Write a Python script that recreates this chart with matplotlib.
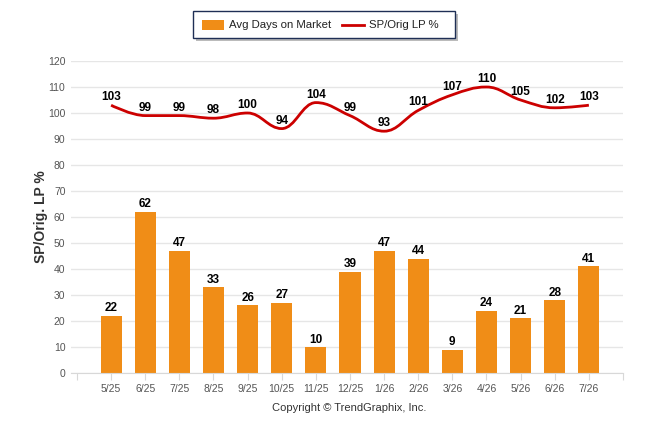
import matplotlib.pyplot as plt
import numpy as np
from matplotlib.path import Path
from matplotlib.patches import PathPatch, Rectangle
from matplotlib.lines import Line2D

plt.rcParams['font.family'] = ['Liberation Sans', 'DejaVu Sans']

months = ['5/25', '6/25', '7/25', '8/25', '9/25', '10/25', '11/25', '12/25',
          '1/26', '2/26', '3/26', '4/26', '5/26', '6/26', '7/26']
avg_days = [22, 62, 47, 33, 26, 27, 10, 39, 47, 44, 9, 24, 21, 28, 41]
sp_orig = [103, 99, 99, 98, 100, 94, 104, 99, 93, 101, 107, 110, 105, 102, 103]

BAR_COLOR = '#F08D17'
LINE_COLOR = '#CC0000'
GRID_COLOR = '#E6E6E6'
TEXT_GRAY = '#555555'


def spline_path(xs, ys, smoothing=1.5):
    # Highcharts-like spline: bezier control points per point
    n = len(xs)
    denom = smoothing + 1
    lefts, rights = [], []
    for i in range(n):
        x, y = xs[i], ys[i]
        if i == 0 or i == n - 1:
            lefts.append((x, y))
            rights.append((x, y))
            continue
        lx, ly = xs[i - 1], ys[i - 1]
        nx, ny = xs[i + 1], ys[i + 1]
        lcx = (smoothing * x + lx) / denom
        lcy = (smoothing * y + ly) / denom
        rcx = (smoothing * x + nx) / denom
        rcy = (smoothing * y + ny) / denom
        corr = (rcy - lcy) * (rcx - x) / (rcx - lcx) + y - rcy
        lcy += corr
        rcy += corr
        if lcy > ly and lcy > y:
            lcy = max(ly, y)
            rcy = 2 * y - lcy
        elif lcy < ly and lcy < y:
            lcy = min(ly, y)
            rcy = 2 * y - lcy
        if rcy > ny and rcy > y:
            rcy = max(ny, y)
            lcy = 2 * y - rcy
        elif rcy < ny and rcy < y:
            rcy = min(ny, y)
            lcy = 2 * y - rcy
        lefts.append((lcx, lcy))
        rights.append((rcx, rcy))
    verts = [(xs[0], ys[0])]
    codes = [Path.MOVETO]
    for i in range(1, n):
        verts += [rights[i - 1], lefts[i], (xs[i], ys[i])]
        codes += [Path.CURVE4] * 3
    return Path(verts, codes)


fig = plt.figure(figsize=(6.46, 4.34), dpi=100)
ax = fig.add_axes([71 / 646, 1 - 373 / 434, (623 - 71) / 646, 312 / 434])

x = np.arange(len(months))
ax.bar(x, avg_days, width=0.62, color=BAR_COLOR, zorder=2)

path = spline_path(list(x.astype(float)), [float(v) for v in sp_orig])
ax.add_patch(PathPatch(path, facecolor='none', edgecolor=LINE_COLOR, lw=2, zorder=3))

for xi, v in zip(x, avg_days):
    ax.annotate(str(v), (xi, v), xytext=(0, 1), textcoords='offset points',
                ha='center', va='bottom', fontsize=8.5, fontweight='bold', color='black')
for xi, v in zip(x, sp_orig):
    ax.annotate(str(v), (xi, v), xytext=(0, 1.5), textcoords='offset points',
                ha='center', va='bottom', fontsize=8.5, fontweight='bold', color='black')

ax.set_xlim(-1.175, 15)
ax.set_ylim(0, 120)
ax.set_yticks(np.arange(0, 121, 10))
ax.tick_params(axis='y', length=0, labelsize=7.5, labelcolor=TEXT_GRAY, pad=4)
ticks = [-1] + list(x) + [15]
ax.set_xticks(ticks)
ax.set_xticklabels([''] + months + [''])
ax.tick_params(axis='x', length=5, color='#D8D8D8', labelsize=7.5, labelcolor=TEXT_GRAY, pad=3)
ax.grid(axis='y', color=GRID_COLOR, lw=1, zorder=0)
ax.set_axisbelow(True)
for s in ['top', 'right', 'left']:
    ax.spines[s].set_visible(False)
ax.spines['bottom'].set_color('#D8D8D8')

ax.set_ylabel('SP/Orig. LP %', fontsize=10, fontweight='bold', color='#333333', labelpad=0)

# legend box with shadow
shadow = Rectangle((196 / 646, 1 - 41 / 434), (455 - 193) / 646, 27 / 434,
                   transform=fig.transFigure, facecolor='#BBBBBB', edgecolor='none', zorder=1)
box = Rectangle((193 / 646, 1 - 38 / 434), (455 - 193) / 646, 27 / 434,
                transform=fig.transFigure, facecolor='white', edgecolor='#1F2F55', lw=1, zorder=2)
fig.patches.extend([shadow, box])
fig.patches.append(Rectangle((202 / 646, 1 - 30 / 434), 22 / 646, 10 / 434,
                             transform=fig.transFigure, facecolor=BAR_COLOR, edgecolor='none', zorder=3))
fig.text(229 / 646, 1 - 25 / 434, 'Avg Days on Market', fontsize=8.2, color='#222222', va='center', zorder=3)
fig.lines.append(Line2D([342 / 646, 364 / 646], [1 - 25 / 434, 1 - 25 / 434],
                        transform=fig.transFigure, color=LINE_COLOR, lw=2, zorder=3))
fig.text(369 / 646, 1 - 25 / 434, 'SP/Orig LP %', fontsize=8.2, color='#222222', va='center', zorder=3)

fig.text(349 / 646, 1 - 408 / 434, 'Copyright \u00a9 TrendGraphix, Inc.', fontsize=8, color='#333333',
         ha='center', va='center')

plt.savefig('out.png', dpi=100)
